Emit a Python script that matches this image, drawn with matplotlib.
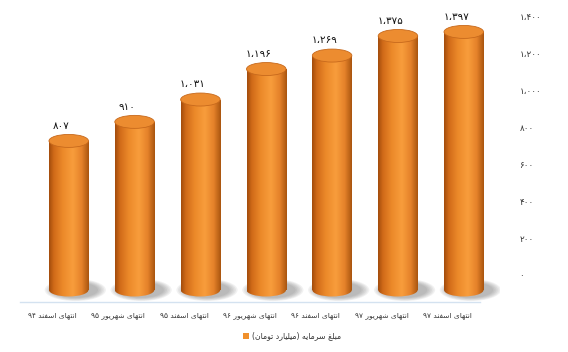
import matplotlib
matplotlib.use('Agg')
import matplotlib.pyplot as plt
import numpy as np
from matplotlib.patches import Rectangle, Ellipse, Patch
from matplotlib.colors import LinearSegmentedColormap

# ---------------- data ----------------
categories = ['انتهای اسفند ۹۴', 'انتهای شهریور ۹۵', 'انتهای اسفند ۹۵',
              'انتهای شهریور ۹۶', 'انتهای اسفند ۹۶', 'انتهای شهریور ۹۷',
              'انتهای اسفند ۹۷']
values = [807, 910, 1031, 1196, 1269, 1375, 1397]
yticks = [0, 200, 400, 600, 800, 1000, 1200, 1400]
series_name = 'مبلغ سرمایه (میلیارد تومان)'

# ---------------- minimal Persian shaping ----------------
FORMS = {
    'ا': ('\uFE8D', '\uFE8E', None, None),
    'ب': ('\uFE8F', '\uFE90', '\uFE91', '\uFE92'),
    'ت': ('\uFE95', '\uFE96', '\uFE97', '\uFE98'),
    'د': ('\uFEA9', '\uFEAA', None, None),
    'ر': ('\uFEAD', '\uFEAE', None, None),
    'س': ('\uFEB1', '\uFEB2', '\uFEB3', '\uFEB4'),
    'ش': ('\uFEB5', '\uFEB6', '\uFEB7', '\uFEB8'),
    'غ': ('\uFECD', '\uFECE', '\uFECF', '\uFED0'),
    'ف': ('\uFED1', '\uFED2', '\uFED3', '\uFED4'),
    'ل': ('\uFEDD', '\uFEDE', '\uFEDF', '\uFEE0'),
    'م': ('\uFEE1', '\uFEE2', '\uFEE3', '\uFEE4'),
    'ن': ('\uFEE5', '\uFEE6', '\uFEE7', '\uFEE8'),
    'ه': ('\uFEE9', '\uFEEA', '\uFEEB', '\uFEEC'),
    'و': ('\uFEED', '\uFEEE', None, None),
    'ی': ('\uFEEF', '\uFEF0', '\uFEF3', '\uFEF4'),
}
DIGITS = '۰۱۲۳۴۵۶۷۸۹'
SEP = '\u060C'
NUMCH = set(DIGITS) | {SEP}
MIRROR = {'(': ')', ')': '('}


def shape(s):
    out = []
    for i, c in enumerate(s):
        if c not in FORMS:
            out.append(c)
            continue
        prev = s[i - 1] if i > 0 else ''
        nxt = s[i + 1] if i + 1 < len(s) else ''
        jp = prev in FORMS and FORMS[prev][2] is not None
        jn = FORMS[c][2] is not None and nxt in FORMS
        iso, fin, ini, med = FORMS[c]
        if jp and jn:
            out.append(med)
        elif jp:
            out.append(fin)
        elif jn:
            out.append(ini)
        else:
            out.append(iso)
    return ''.join(out)


def rtl(s):
    s = shape(s)
    runs = []
    for c in s:
        isnum = c in NUMCH
        if runs and runs[-1][0] == isnum:
            runs[-1][1].append(c)
        else:
            runs.append([isnum, [c]])
    res = []
    for isnum, chars in reversed(runs):
        if isnum:
            res.append(''.join(chars))
        else:
            res.append(''.join(MIRROR.get(c, c) for c in reversed(chars)))
    return ''.join(res)


def fa_num(v):
    t = f'{v:,}'.replace(',', SEP)
    return ''.join(DIGITS[int(ch)] if ch.isdigit() else ch for ch in t)


plt.rcParams['font.family'] = ['DejaVu Sans']

# ---------------- figure ----------------
W, H = 568, 352
fig = plt.figure(figsize=(W / 100, H / 100), dpi=100)
ax = fig.add_axes([20 / W, (H - 302) / H, 480 / W, (302 - 14) / H])
ylo, yhi = -65, 1494
xlo, xhi_line, xhi = -0.49, 6.5, 6.8
px_per_unit = 288 / (yhi - ylo)

bar_off = 0.25
bar_w = 0.6
ell_h = 13 / px_per_unit

body_cmap = LinearSegmentedColormap.from_list(
    'body', [(0.0, '#a24c0c'), (0.12, '#d06a18'), (0.35, '#ec8a2a'),
             (0.6, '#f89d3c'), (0.82, '#e5822a'), (1.0, '#a9550f')])
grad = np.linspace(0, 1, 256).reshape(1, -1)

xs = np.arange(len(categories))
for i, v in zip(xs, values):
    xc = i + bar_off
    # shadow
    for k in range(6):
        sh = Ellipse((xc + 0.10, 0), bar_w * (1.55 - 0.08 * k),
                     ell_h * (1.7 - 0.1 * k), facecolor='#555555',
                     edgecolor='none', alpha=0.08, zorder=1)
        ax.add_patch(sh)
    # body
    rect = Rectangle((xc - bar_w / 2, 0), bar_w, v, facecolor='none',
                     edgecolor='none', zorder=2)
    ax.add_patch(rect)
    bot = Ellipse((xc, 0), bar_w, ell_h, facecolor='none', edgecolor='none',
                  zorder=2)
    ax.add_patch(bot)
    for clip in (rect, bot):
        im = ax.imshow(grad, cmap=body_cmap, aspect='auto',
                       extent=(xc - bar_w / 2, xc + bar_w / 2, -ell_h, v),
                       zorder=2, interpolation='bilinear')
        im.set_clip_path(clip)
    # top
    top = Ellipse((xc, v), bar_w, ell_h, facecolor='#ec8c30',
                  edgecolor='#c7691c', linewidth=0.6, zorder=3)
    ax.add_patch(top)
    ax.annotate(fa_num(v), (xc, v), xytext=(-5.5, 11),
                textcoords='offset points', ha='center', va='center',
                fontsize=7.5, color='#111111', zorder=4)

ax.set_xlim(xlo, xhi)
ax.set_ylim(ylo, yhi)
ax.set_xticks(xs)
ax.set_xticklabels([rtl(c) for c in categories])
ax.tick_params(axis='x', length=0, pad=7, labelsize=5.3, colors='#333333')
ax.set_yticks([])
for s in ('top', 'left', 'right'):
    ax.spines[s].set_visible(False)
ax.spines['bottom'].set_color('#d4e2f0')
ax.spines['bottom'].set_linewidth(1.0)
ax.spines['bottom'].set_bounds(xlo, xhi_line)

ax2 = ax.twinx()
shift = 15 / px_per_unit
ax2.set_ylim(ylo - shift, yhi - shift)
ax2.set_yticks(yticks)
ax2.set_yticklabels([fa_num(t) for t in yticks])
ax2.tick_params(axis='y', length=0, pad=14, labelsize=6.3, colors='#333333')
for s in ax2.spines.values():
    s.set_visible(False)

handle = Patch(facecolor='#f0902c', edgecolor='none')
fig.legend([handle], [rtl(series_name)], loc='center',
           bbox_to_anchor=(292 / W, 1 - 336 / H), frameon=False,
           fontsize=5.6, handlelength=0.7, handleheight=0.7,
           handletextpad=0.4, labelcolor='#333333')

fig.savefig('out.png', dpi=100, facecolor='white')
